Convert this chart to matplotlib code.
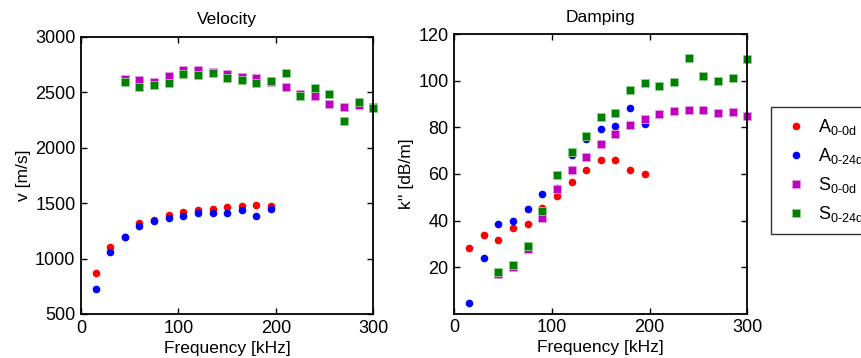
import matplotlib
matplotlib.use("Agg")
import matplotlib.pyplot as plt

plt.rcParams['font.family'] = ['Liberation Sans', 'DejaVu Sans']
plt.rcParams['mathtext.fontset'] = 'custom'
plt.rcParams['mathtext.rm'] = 'Liberation Sans'
plt.rcParams['mathtext.it'] = 'Liberation Sans'

freq_a = [15, 30, 45, 60, 75, 90, 105, 120, 135, 150, 165, 180, 195]
freq_s = [45, 60, 75, 90, 105, 120, 135, 150, 165, 180, 195, 210, 225, 240, 255, 270, 285, 300]

vel_a00 = [869, 1106, 1195, 1325, 1350, 1395, 1418, 1440, 1445, 1463, 1470, 1487, 1472]
vel_a24 = [725, 1058, 1196, 1298, 1340, 1370, 1388, 1415, 1415, 1415, 1440, 1380, 1448]
vel_s00 = [2617, 2608, 2590, 2647, 2705, 2702, 2683, 2665, 2635, 2629, 2590, 2545, 2488, 2467, 2395, 2368, 2383, 2371]
vel_s24 = [2590, 2545, 2566, 2581, 2665, 2656, 2675, 2632, 2608, 2581, 2605, 2671, 2470, 2539, 2488, 2241, 2416, 2356]

damp_a00 = [28.3, 33.9, 31.6, 36.6, 38.7, 45.3, 50.7, 56.7, 61.9, 65.9, 66.1, 61.6, 60.0]
damp_a24 = [4.4, 23.9, 38.7, 40.0, 45.0, 51.6, 54.0, 68.0, 75.0, 79.3, 80.8, 88.4, 81.5]
damp_s00 = [17.2, 19.9, 27.6, 40.9, 53.6, 61.6, 67.1, 73.1, 77.1, 81.1, 83.7, 85.6, 87.1, 87.6, 87.3, 86.0, 86.7, 85.1]
damp_s24 = [17.9, 21.0, 29.0, 44.0, 59.7, 69.6, 76.4, 84.4, 86.0, 96.0, 99.3, 97.6, 99.6, 110.0, 101.9, 100.0, 101.1, 109.3]

labels = [r'A$_{\text{0-0d}}$', r'A$_{\text{0-24d}}$', r'S$_{\text{0-0d}}$', r'S$_{\text{0-24d}}$']

c_red = '#ff0000'
c_blue = '#0000ff'
c_mag = '#bf00bf'
c_green = '#008000'

fig = plt.figure(figsize=(8.62, 3.58), dpi=100)
ax1 = fig.add_axes([0.094, 0.123, 0.339, 0.774])
ax2 = fig.add_axes([0.527, 0.124, 0.340, 0.780])

ms = 5.5
def draw(ax, ya, yb, ys0, ys1):
    h1, = ax.plot(freq_a, ya, 'o', color=c_red, ms=ms, mec=c_red, mew=0)
    h2, = ax.plot(freq_a, yb, 'o', color=c_blue, ms=ms, mec=c_blue, mew=0)
    h3, = ax.plot(freq_s, ys0, 's', color=c_mag, ms=ms, mec='#e89ae8', mew=0.6)
    h4, = ax.plot(freq_s, ys1, 's', color=c_green, ms=ms, mec='#8fd08f', mew=0.6)
    return [h1, h2, h3, h4]

draw(ax1, vel_a00, vel_a24, vel_s00, vel_s24)
handles = draw(ax2, damp_a00, damp_a24, damp_s00, damp_s24)

for ax in (ax1, ax2):
    ax.set_xlim(0, 300)
    ax.set_xticks([0, 100, 200, 300])
    ax.tick_params(direction='in', top=True, right=True, length=4, width=1,
                   labelsize=13, pad=4)
    for sp in ax.spines.values():
        sp.set_linewidth(1.3)
    for o in ax.lines:
        o.set_clip_on(False)
    ax.set_xlabel('Frequency [kHz]', fontsize=12.5, labelpad=3)

ax1.set_ylim(500, 3000)
ax1.set_yticks([500, 1000, 1500, 2000, 2500, 3000])
ax1.set_ylabel('v [m/s]', fontsize=12.5, labelpad=3)
ax1.set_title('Velocity', fontsize=12.5, pad=9)

ax2.set_ylim(0, 120)
ax2.set_yticks([20, 40, 60, 80, 100, 120])
ax2.set_ylabel("k'' [dB/m]", fontsize=12.5, labelpad=3)
ax2.set_title('Damping', fontsize=12.5, pad=9)

leg = fig.legend(handles, labels, loc='upper left', bbox_to_anchor=(0.895, 0.700),
                 bbox_transform=fig.transFigure, fontsize=13, frameon=True,
                 fancybox=False, edgecolor='black', handlelength=1.6,
                 handletextpad=0.4, borderpad=0.55, labelspacing=0.5, borderaxespad=0)
leg.get_frame().set_linewidth(1.0)

fig.savefig('out.png', dpi=100)
